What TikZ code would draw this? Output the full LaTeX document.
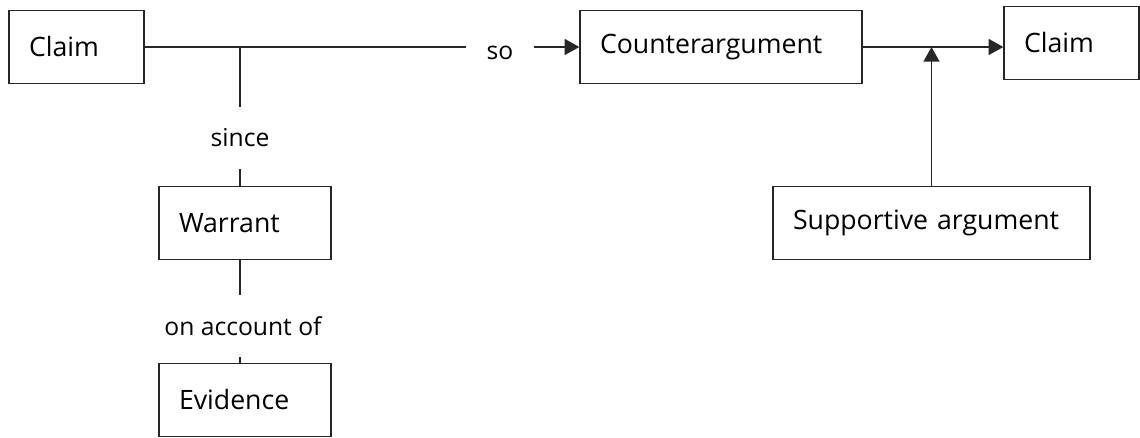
\documentclass[tikz,border=0pt]{standalone}
\usepackage{fontspec}
\setmainfont{Open Sans}
\usetikzlibrary{arrows.meta}

\tikzset{
  boite/.style={draw=black!85, line width=1pt, rectangle, inner xsep=15pt, minimum height=55pt, align=left, font=\fontsize{20}{24}\selectfont},
  mot/.style={inner xsep=15pt, inner ysep=16pt, font=\fontsize{18.5}{22}\selectfont},
  lien/.style={draw=black!85, line width=1pt},
  fleche/.style={lien, -{Triangle[length=11pt,width=12pt]}}
}

\begin{document}
\begin{tikzpicture}[x=0.75pt, y=-0.75pt]
  \useasboundingbox (0,0) rectangle (1140,438);

  % Boites
  \foreach \nom/\x/\y/\largeur/\texte in {claimA/76.5/47/71.25/Claim, counter/721/47/181.5/Counterargument, claimB/1071.5/43/71.25/Claim, warrant/245/223/99/Warrant, evidence/245/400/99/Evidence, support/931.5/223/207.75/Supportive argument} {
    \node[boite, text width=\largeur pt] (\nom) at (\x,\y) {\texte};
  }

  % Mots de liaison
  \node[mot] (so) at (500,53) {so};
  \node[mot] (since) at (240,138) {since};
  \node[mot] (account) at (243,326) {on account of};

  % Ligne principale
  \draw[lien] (claimA.east) -- (claimA.east -| so.west);
  \draw[fleche] (claimA.east -| so.east) -- (counter.west);
  \draw[fleche] (counter.east) -- (counter.east -| claimB.west);
  \draw[fleche] (support.north) -- (support.north |- counter.east);

  % Branche verticale
  \draw[lien] (since.north |- claimA.east) -- (since.north);
  \draw[lien] (since.south) -- (since.south |- warrant.north);
  \draw[lien] (since.south |- warrant.south) -- (since.south |- account.north);
  \draw[lien] (since.south |- account.south) -- (since.south |- evidence.north);
\end{tikzpicture}
\end{document}
